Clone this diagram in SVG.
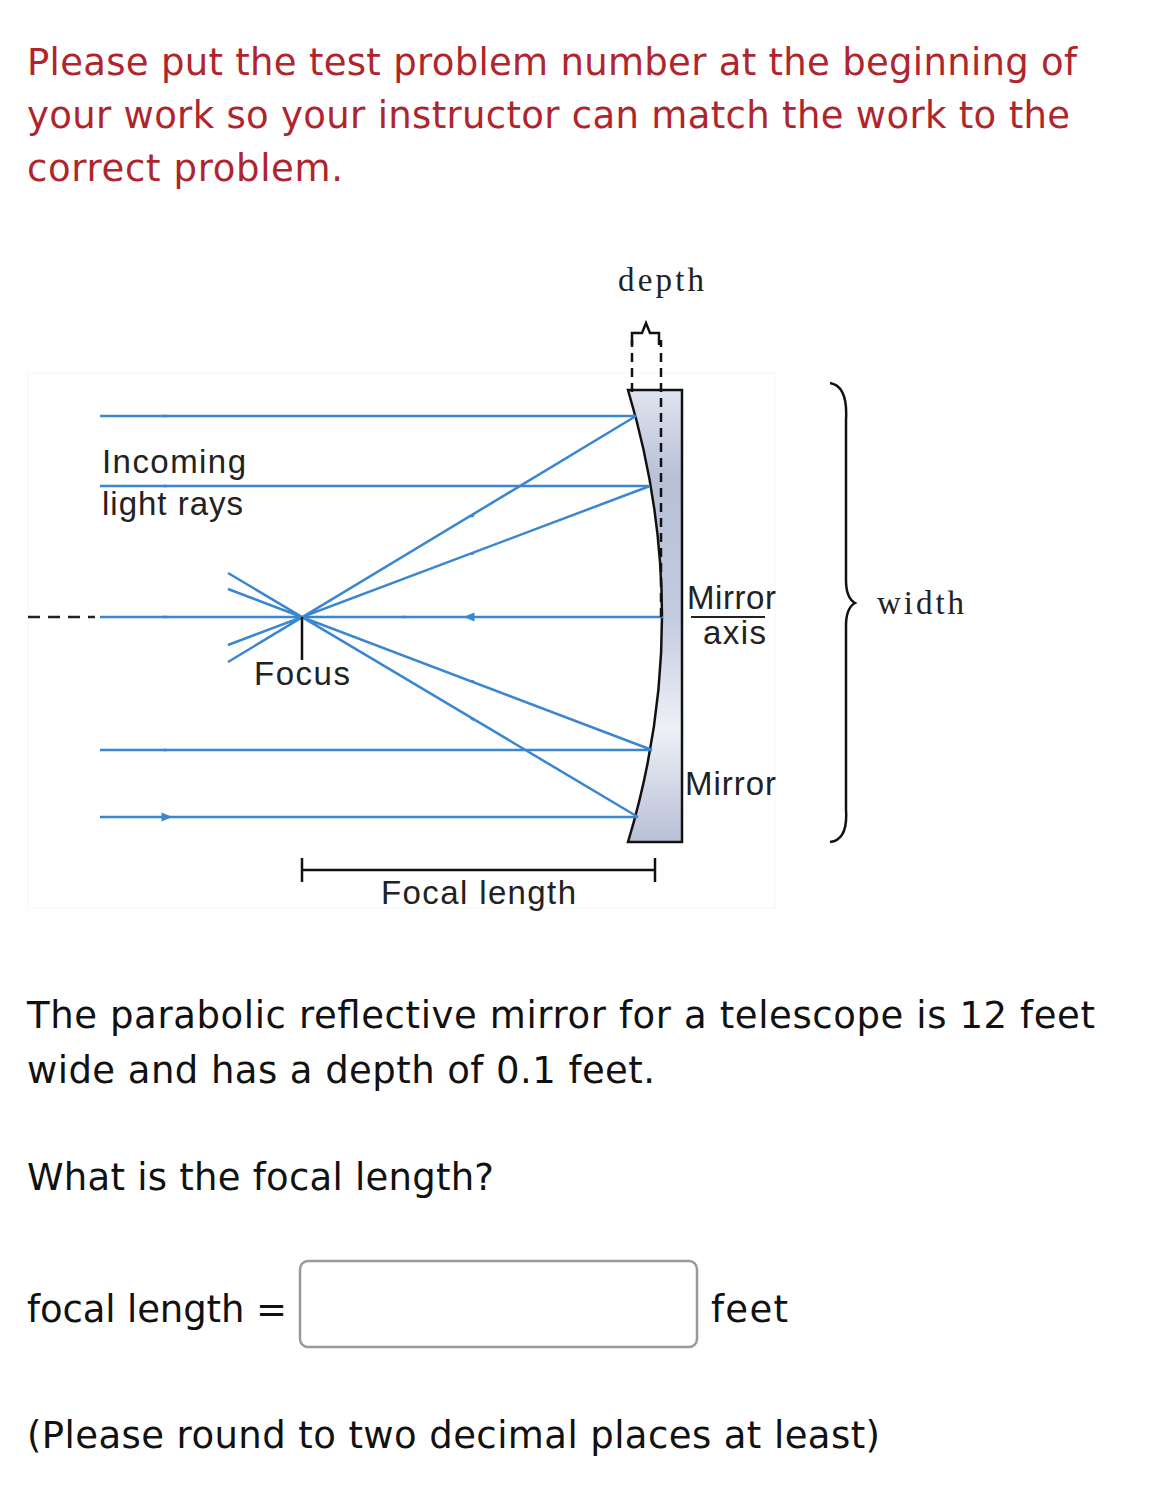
<svg xmlns="http://www.w3.org/2000/svg" width="1161" height="1490" viewBox="0 0 1161 1490">
<style>
.hd{font-family:"DejaVu Sans",sans-serif;font-size:37px;fill:#b0252c}
.bd{font-family:"DejaVu Sans",sans-serif;font-size:37px;fill:#111}
.lb{font-family:"Liberation Sans",Arial,sans-serif;font-size:33px;fill:#222;letter-spacing:-1px}
.sf{font-family:"Liberation Serif",serif;font-size:33px;fill:#222}
.ray{stroke:#3a86d0;stroke-width:2.5;fill:none}
.blk{stroke:#111;stroke-width:2.5;fill:none}
</style>
<defs>
<marker id="ar" viewBox="0 0 10 10" refX="5" refY="5" markerWidth="13" markerHeight="11" markerUnits="userSpaceOnUse" orient="auto"><path d="M0,1L10,5L0,9z" fill="#3a86d0"/></marker>
<linearGradient id="mg" x1="0" y1="0" x2="0" y2="1"><stop offset="0" stop-color="#dfe3ef"/><stop offset="0.2" stop-color="#b8c0d6"/><stop offset="0.5" stop-color="#c4cbe0"/><stop offset="0.75" stop-color="#eef0f6"/><stop offset="1" stop-color="#b8c0d6"/></linearGradient>
</defs>
<rect width="1161" height="1490" fill="#fff"/>
<g id="header">
<text class="hd" x="27" y="75" textLength="1050">Please put the test problem number at the beginning of</text>
<text class="hd" x="27" y="128" textLength="1043">your work so your instructor can match the work to the</text>
<text class="hd" x="27" y="181" textLength="316">correct problem.</text>
</g>
<rect x="28" y="373" width="747" height="535" fill="none" stroke="#f6f6f6" stroke-width="1"/>
<g id="mirror">
<path d="M628,390 L682,390 L682,842 L628,842 Q696,617 628,390 Z" fill="url(#mg)" stroke="#111" stroke-width="2.5"/>
</g>
<g id="connectors">
<path class="ray" d="M100,416H636M100,486H650M100,617H663M100,750H652M100,817H638"/>
<path class="ray" d="M163,416h4M163,486h4M163,617h4M163,750h4M163,817h4" marker-end="url(#ar)"/>
<path class="ray" d="M636,416L228,662M650,486L228,645M652,750L228,589M638,817L228,573"/>
<path class="ray" d="M474,515l-3,1.8M474,553l-3,1.1M474,682l-3,-1.1M474,720l-3,-1.8M405,617h-3M472,617h-3" marker-end="url(#ar)"/>
<path d="M28,617H95" stroke="#222" stroke-width="2.5" stroke-dasharray="12,8"/>
<path class="blk" d="M302,617V660"/>
<path d="M632,392V340M661,617V340" stroke="#111" stroke-width="2.5" stroke-dasharray="9,6"/>
<path class="blk" d="M632,345V333H642L646,323L650,333H659V345"/>
<path class="blk" d="M302,858V882M302,870H655M655,858V882"/>
<path class="blk" d="M830,383Q848,386 846,420V580Q846,598 855,603Q846,608 846,626V810Q848,840 830,842" stroke-width="2"/>
<path d="M691,617H765" stroke="#222" stroke-width="2"/>
</g>
<g id="labels">
<text class="sf" x="618" y="291" textLength="86">depth</text>
<text class="lb" x="102" y="473" textLength="143">Incoming</text>
<text class="lb" x="102" y="515" textLength="140">light rays</text>
<text class="lb" x="254" y="685" textLength="95">Focus</text>
<text class="lb" x="687" y="609" textLength="88">Mirror</text>
<text class="lb" x="703" y="644" textLength="62">axis</text>
<text class="lb" x="685" y="795" textLength="90">Mirror</text>
<text class="lb" x="381" y="904" textLength="194">Focal length</text>
<text class="sf" x="877" y="614" textLength="87">width</text>
</g>
<g id="body">
<text class="bd" x="27" y="1028" textLength="1068">The parabolic reflective mirror for a telescope is 12 feet</text>
<text class="bd" x="27" y="1083" textLength="628">wide and has a depth of 0.1 feet.</text>
<text class="bd" x="27" y="1190" textLength="467">What is the focal length?</text>
<text class="bd" x="27" y="1322" textLength="260">focal length =</text>
<rect x="300" y="1261" width="397" height="86" rx="8" fill="#fff" stroke="#999" stroke-width="2.5"/>
<text class="bd" x="711" y="1322" textLength="77">feet</text>
<text class="bd" x="27" y="1448" textLength="853">(Please round to two decimal places at least)</text>
</g>
</svg>
